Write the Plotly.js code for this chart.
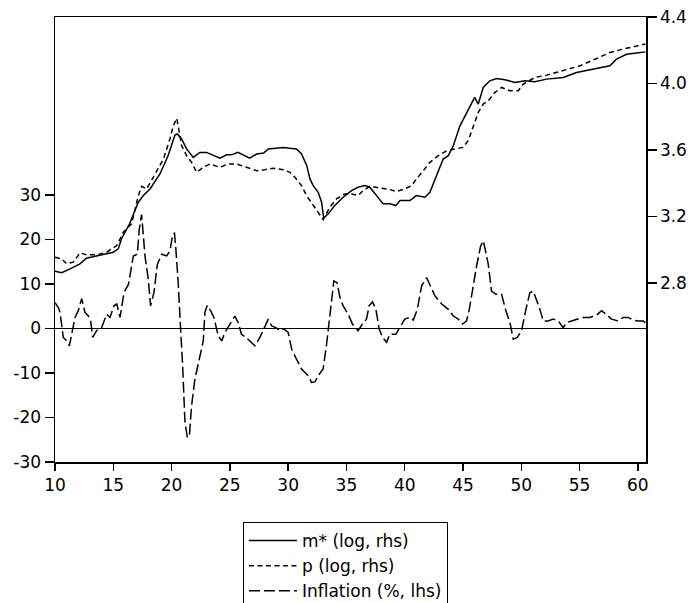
<!DOCTYPE html>
<html>
<head>
<meta charset="utf-8">
<script src="https://cdn.plot.ly/plotly-3.0.1.min.js"></script>
<style>html,body{margin:0;padding:0;background:#fff;}#chart{width:692px;height:603px;}</style>
</head>
<body>
<div id="chart"></div>
<script>
// m* (log, rhs)
const mX = [10.0,10.57,11.29,12.14,12.7,13.86,15.0,15.43,15.7,16.4,17.15,17.58,18.15,19.0,19.7,20.29,20.5,20.86,21.29,21.86,22.43,23.0,23.6,24.15,24.72,25.15,25.7,26.3,26.7,27.3,27.9,28.3,29.0,29.6,30.15,30.72,31.15,31.6,31.87,32.15,32.58,32.87,33.05,33.44,34.0,34.72,35.44,36.0,36.58,37.0,37.58,38.15,38.73,39.24,39.6,40.44,41.0,41.74,42.16,42.74,43.3,43.74,44.17,44.74,45.45,46.0,46.31,46.74,47.3,47.88,48.6,49.46,50.31,51.17,52.17,53.6,54.74,56.17,57.6,58.17,59.03,59.9,60.65];
const mY = [2.87,2.86,2.884,2.914,2.948,2.968,2.984,3.004,3.064,3.155,3.285,3.325,3.365,3.455,3.565,3.69,3.696,3.666,3.606,3.555,3.585,3.585,3.565,3.55,3.57,3.57,3.585,3.565,3.55,3.575,3.581,3.606,3.61,3.615,3.61,3.606,3.575,3.505,3.425,3.385,3.345,3.285,3.19,3.215,3.265,3.315,3.355,3.375,3.385,3.375,3.325,3.275,3.275,3.265,3.295,3.295,3.325,3.315,3.345,3.445,3.545,3.565,3.625,3.745,3.846,3.916,3.876,3.976,4.016,4.03,4.022,4.006,4.016,4.01,4.026,4.036,4.066,4.086,4.106,4.146,4.176,4.183,4.19];

// p (log, rhs)
const pX = [10.0,10.57,11.0,11.57,12.14,12.7,13.57,14.43,15.3,15.86,16.57,17.15,17.43,17.86,18.43,19.3,19.86,20.15,20.45,20.86,21.29,21.72,22.15,22.72,23.3,24.15,24.86,25.58,26.43,27.3,28.0,28.72,29.58,30.15,30.58,31.15,31.58,32.15,32.58,33.0,33.58,34.15,34.86,35.44,36.0,36.44,37.0,37.58,38.15,38.73,39.3,40.0,40.6,41.0,41.6,42.16,42.88,43.6,44.31,45.0,45.45,45.88,46.31,46.74,47.17,47.74,48.31,49.03,49.74,50.17,50.74,51.17,52.17,53.6,55.03,56.46,57.6,58.74,59.9,60.65];
const pY = [2.954,2.944,2.914,2.924,2.98,2.968,2.968,2.984,3.024,3.104,3.155,3.325,3.381,3.365,3.435,3.545,3.666,3.746,3.79,3.626,3.565,3.525,3.465,3.495,3.515,3.495,3.515,3.515,3.495,3.475,3.481,3.489,3.481,3.465,3.435,3.385,3.325,3.265,3.225,3.181,3.255,3.305,3.335,3.335,3.325,3.355,3.381,3.375,3.365,3.361,3.349,3.365,3.385,3.425,3.475,3.525,3.565,3.595,3.605,3.615,3.655,3.745,3.826,3.876,3.896,3.946,3.976,3.956,3.956,3.996,4.016,4.036,4.05,4.076,4.106,4.15,4.186,4.207,4.223,4.237];

// Inflation (%, lhs)
const infX = [10.0,10.29,10.43,10.71,11.0,11.23,11.72,12.0,12.29,12.57,12.86,13.06,13.23,13.57,14.0,14.43,14.72,15.06,15.3,15.58,15.92,16.3,16.72,17.06,17.23,17.43,17.72,18.0,18.2,18.49,18.78,19.15,19.58,19.86,20.1,20.25,20.37,20.57,20.77,20.95,21.15,21.35,21.52,21.72,22.0,22.38,22.72,22.86,23.06,23.35,23.63,24.0,24.3,24.58,25.0,25.43,25.72,26.0,26.38,26.72,27.15,27.58,28.0,28.3,28.58,28.95,29.3,29.63,30.0,30.3,30.72,31.15,31.44,31.72,32.0,32.3,32.58,33.0,33.3,33.52,33.72,33.92,34.2,34.44,34.72,35.15,35.52,36.0,36.38,36.72,36.95,37.24,37.53,37.81,38.1,38.44,38.73,39.24,39.58,40.0,40.44,40.74,41.08,41.45,41.88,42.17,42.6,43.17,43.74,44.17,44.6,44.97,45.31,45.54,45.82,46.17,46.51,46.74,46.97,47.17,47.45,47.83,48.31,48.68,49.03,49.31,49.66,50.03,50.4,50.74,51.03,51.31,51.6,51.88,52.31,52.74,53.17,53.6,53.88,54.31,54.74,55.31,55.88,56.46,56.88,57.3,57.74,58.31,58.74,59.17,59.6,60.03,60.46,60.65];
const infY = [5.8,4.7,3.6,-2.0,-2.8,-3.9,2.5,4.0,6.7,3.6,2.8,1.7,-2.0,-0.5,0.2,3.2,2.5,5.1,5.5,2.5,8.1,9.9,16.3,16.7,22.3,25.6,16.3,11.1,5.1,8.1,14.4,16.7,16.3,17.4,21.2,21.4,17.8,10.3,0.2,-8.4,-21.1,-24.4,-24.4,-17.3,-11.4,-6.5,-2.8,3.6,5.2,4.0,2.5,-1.6,-2.8,-0.9,1.0,2.8,1.3,-1.3,-2.0,-2.8,-3.9,-2.0,0.6,2.1,0.6,0.2,-0.5,-0.1,-0.9,-4.6,-6.9,-9.1,-9.9,-10.6,-12.1,-12.0,-10.6,-9.1,-3.5,1.3,6.6,10.7,10.3,7.0,5.1,3.2,1.0,-0.5,1.0,2.1,5.1,6.0,4.3,-0.1,-2.0,-3.1,-1.3,-1.3,0.2,2.1,2.5,1.9,4.3,9.6,11.4,9.6,7.3,5.5,4.3,2.8,2.1,1.0,1.7,4.3,8.8,14.1,18.5,19.7,17.0,14.4,8.4,7.7,7.7,4.0,1.3,-2.4,-2.0,-0.5,4.3,8.1,8.4,6.6,4.3,1.7,1.7,2.1,1.7,0.2,1.3,1.7,2.1,2.5,2.5,3.0,4.0,3.2,2.1,1.7,2.5,2.5,1.9,1.7,1.7,1.3];

const xTicks = [10,15,20,25,30,35,40,45,50,55,60];
const leftTicks = [-30,-20,-10,0,10,20,30];
const rightTicks = [2.8,3.2,3.6,4.0,4.4];

const FONT = 'DejaVu Sans, Liberation Sans, Arial, sans-serif';

const traces = [
  {x: mX, y: mY, yaxis: 'y2', mode: 'lines', name: 'm* (log, rhs)',
   line: {color: '#000', width: 1.5, dash: 'solid'}},
  {x: pX, y: pY, yaxis: 'y2', mode: 'lines', name: 'p (log, rhs)',
   line: {color: '#000', width: 1.5, dash: '5px,3.5px'}},
  {x: infX, y: infY, yaxis: 'y', mode: 'lines', name: 'Inflation (%, lhs)',
   line: {color: '#000', width: 1.5, dash: '11px,4px'}}
];

const layout = {
  width: 692, height: 603,
  margin: {l: 55, r: 46, t: 17, b: 141, pad: 0},
  paper_bgcolor: '#fff', plot_bgcolor: '#fff',
  font: {family: FONT, size: 17, color: '#000'},
  showlegend: true,
  legend: {
    xref: 'paper', yref: 'container',
    x: 0.318, y: 0.1343, xanchor: 'left', yanchor: 'top',
    bordercolor: '#000', borderwidth: 1, bgcolor: '#fff',
    font: {family: FONT, size: 17, color: '#000'},
    itemwidth: 48, tracegroupgap: 0
  },
  xaxis: {
    range: [10, 60.7], tickvals: xTicks, ticktext: xTicks.map(String),
    showgrid: false, zeroline: false,
    showline: true, linecolor: '#000', linewidth: 1.5, mirror: true,
    ticks: 'outside', ticklen: 7, tickwidth: 1.5, tickcolor: '#000',
    tickfont: {family: FONT, size: 17, color: '#000'}
  },
  yaxis: {
    range: [-30, 70], tickvals: leftTicks, ticktext: leftTicks.map(String),
    showgrid: false,
    zeroline: true, zerolinecolor: '#000', zerolinewidth: 1.5,
    showline: true, linecolor: '#000', linewidth: 1.5,
    ticks: 'outside', ticklen: 9, tickwidth: 1.5, tickcolor: '#000',
    tickfont: {family: FONT, size: 17, color: '#000'}
  },
  yaxis2: {
    overlaying: 'y', side: 'right',
    range: [1.721, 4.4], tickvals: rightTicks, ticktext: rightTicks.map(v => v.toFixed(1)),
    showgrid: false, zeroline: false,
    showline: true, linecolor: '#000', linewidth: 1.5,
    ticks: 'outside', ticklen: 9, tickwidth: 1.5, tickcolor: '#000',
    tickfont: {family: FONT, size: 17, color: '#000'}
  }
};

Plotly.newPlot('chart', traces, layout, {displayModeBar: false, staticPlot: true});
</script>
</body>
</html>
